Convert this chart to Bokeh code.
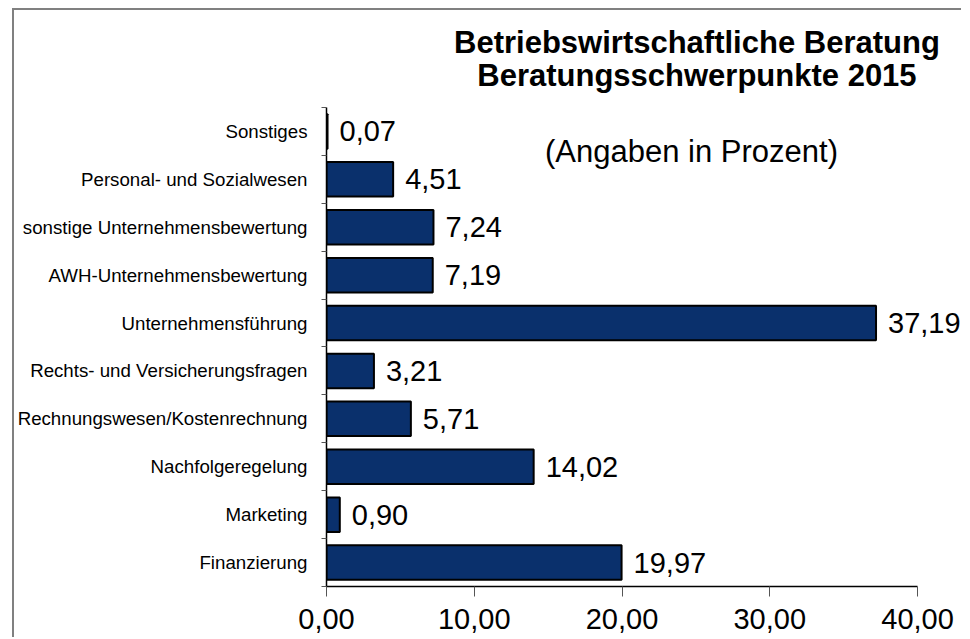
from bokeh.plotting import figure
from bokeh.models import (ColumnDataSource, FixedTicker, CustomJSTickFormatter,
                          Range1d, Label)
from bokeh.core.properties import value
from bokeh.embed import file_html
from bokeh.resources import INLINE

# ---- data (bottom to top) ----
categories = ["Finanzierung", "Marketing", "Nachfolgeregelung",
              "Rechnungswesen/Kostenrechnung", "Rechts- und Versicherungsfragen",
              "Unternehmensführung", "AWH-Unternehmensbewertung",
              "sonstige Unternehmensbewertung", "Personal- und Sozialwesen",
              "Sonstiges"]
values = [19.97, 0.90, 14.02, 5.71, 3.21, 37.19, 7.19, 7.24, 4.51, 0.07]
x_ticks = [0, 10, 20, 30, 40]
title_lines = ["Betriebswirtschaftliche Beratung", "Beratungsschwerpunkte 2015"]
subtitle = "(Angaben in Prozent)"

FONT = "Liberation Sans"
BAR_COLOR = "#0A306C"

positions = list(range(len(categories)))
labels = [f"{v:.2f}".replace(".", ",") for v in values]
src = ColumnDataSource(dict(y=positions, v=values, lab=labels))

W, H = 949, 629
p = figure(width=W, height=H, output_backend="svg", toolbar_location=None,
           x_range=Range1d(0, 43.11), y_range=Range1d(-0.5, 11.525),
           min_border_left=311, min_border_right=0, min_border_top=0,
           min_border_bottom=53)
p.styles = {"border-top": "2px solid #808080", "border-left": "2px solid #808080",
            "margin-left": "12px", "margin-top": "8px"}
p.outline_line_color = None
p.grid.visible = False
p.background_fill_color = "white"
p.border_fill_color = "white"

p.hbar(y="y", left=0, right="v", height=0.72, source=src,
       fill_color=BAR_COLOR, line_color="black", line_width=2)
p.text(x="v", y="y", text="lab", source=src, x_offset=12,
       text_baseline="middle", text_align="left",
       text_font=value(FONT), text_font_size="29px", text_color="black")

# x axis
xa = p.xaxis[0]
xa.ticker = FixedTicker(ticks=x_ticks)
xa.formatter = CustomJSTickFormatter(code="return tick.toFixed(2).replace('.', ',');")
xa.bounds = (0, 40)
xa.major_tick_out = 10
xa.major_tick_in = 0
xa.minor_tick_line_color = None
xa.axis_line_color = "black"
xa.axis_line_width = 1.5
xa.major_tick_line_color = "#555555"
xa.major_label_text_font = FONT
xa.major_label_text_font_size = "29px"
xa.major_label_text_color = "black"
xa.major_label_standoff = 12

# y axis
ya = p.yaxis[0]
ya.ticker = FixedTicker(ticks=positions,
                        minor_ticks=[i - 0.5 for i in range(len(categories) + 1)])
ya.formatter = CustomJSTickFormatter(args=dict(cats=categories),
                                     code="return cats[Math.round(tick)] || '';")
ya.bounds = (-0.5, len(categories) - 0.5)
ya.major_tick_out = 0
ya.major_tick_in = 0
ya.minor_tick_out = 5
ya.minor_tick_in = 0
ya.minor_tick_line_color = "#555555"
ya.axis_line_color = "black"
ya.axis_line_width = 1.5
ya.major_label_text_font = FONT
ya.major_label_text_font_size = "18.7px"
ya.major_label_text_color = "black"
ya.major_label_standoff = 14

# titles
p.add_layout(Label(x=25.07, y=10.86, text=title_lines[0], text_align="center",
                   text_baseline="middle", text_font=FONT, text_font_size="31px",
                   text_font_style="bold", text_color="black"))
p.add_layout(Label(x=25.07, y=10.17, text=title_lines[1], text_align="center",
                   text_baseline="middle", text_font=FONT, text_font_size="31px",
                   text_font_style="bold", text_color="black"))
p.add_layout(Label(x=24.7, y=8.58, text=subtitle, text_align="center",
                   text_baseline="middle", text_font=FONT, text_font_size="31px",
                   text_color="black"))

open("out.html", "w").write(file_html(p, INLINE))
